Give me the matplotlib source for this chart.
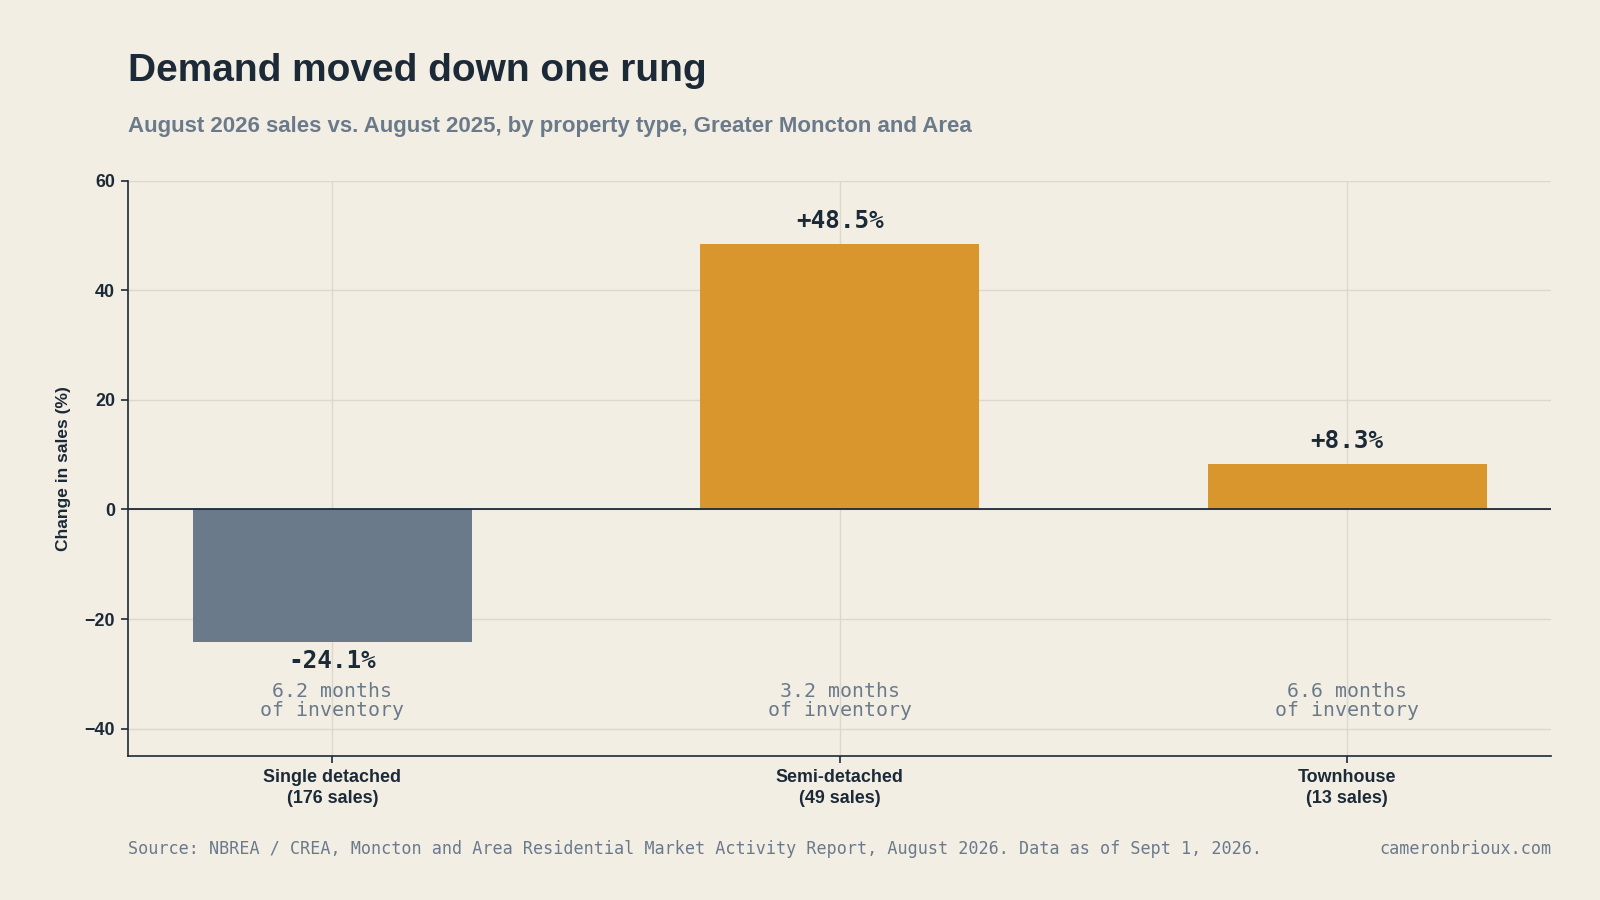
import matplotlib
matplotlib.use("Agg")
import matplotlib.pyplot as plt

# ---- data ----
categories = ["Single detached", "Semi-detached", "Townhouse"]
sales_counts = [176, 49, 13]
change_pct = [-24.1, 48.5, 8.3]
months_inventory = [6.2, 3.2, 6.6]
yticks = [-40, -20, 0, 20, 40, 60]

# ---- style ----
BG = "#f2eee4"
DARK = "#1c2a38"
SLATE = "#6b7a8b"
ORANGE = "#d8962c"
GRID = "#dcd8ce"
SANS = ["Liberation Sans", "DejaVu Sans"]
MONO = ["DejaVu Sans Mono"]

W, H = 1568, 882  # reference pixel space
def fx(x): return x / W
def fy(y): return 1 - y / H

fig = plt.figure(figsize=(16, 9), dpi=100, facecolor=BG)
ax = fig.add_axes([fx(125), fy(741), fx(1520) - fx(125), fy(177) - fy(741)])
ax.set_facecolor(BG)

xs = list(range(len(categories)))
colors = [SLATE if v < 0 else ORANGE for v in change_pct]
ax.bar(xs, change_pct, width=0.55, color=colors, zorder=2)

ax.set_xlim(-0.404, 2.402)
ax.set_ylim(-45, 60)
ax.set_yticks(yticks)
ax.set_yticklabels([("\u2212%d" % -t) if t < 0 else str(t) for t in yticks])
ax.set_xticks(xs)
ax.set_xticklabels([f"{c}\n({n} sales)" for c, n in zip(categories, sales_counts)],
                   fontfamily=SANS, fontweight="bold", fontsize=12.9, color=DARK,
                   linespacing=1.3)
for lab in ax.get_yticklabels():
    lab.set_fontfamily(SANS); lab.set_fontweight("bold"); lab.set_fontsize(12.9); lab.set_color(DARK)

ax.grid(True, color=GRID, linewidth=1, zorder=0)
ax.set_axisbelow(True)
ax.axhline(0, color=DARK, linewidth=1.3, zorder=3)
for s in ["top", "right"]:
    ax.spines[s].set_visible(False)
for s in ["left", "bottom"]:
    ax.spines[s].set_color(DARK)
    ax.spines[s].set_linewidth(1.2)
ax.tick_params(axis="both", colors=DARK, length=5, width=1.2, pad=4)

ax.set_ylabel("Change in sales (%)", fontfamily=SANS, fontweight="bold",
              fontsize=12.5, color=DARK, labelpad=10)

# value labels
for x, v in zip(xs, change_pct):
    txt = f"{v:+.1f}%"
    if v >= 0:
        ax.annotate(txt, (x, v), xytext=(0, 8), textcoords="offset points",
                    ha="center", va="bottom", fontfamily=MONO, fontweight="bold",
                    fontsize=17.5, color=DARK)
    else:
        ax.annotate(txt, (x, v), xytext=(0, -5), textcoords="offset points",
                    ha="center", va="top", fontfamily=MONO, fontweight="bold",
                    fontsize=17.5, color=DARK)

# inventory labels
for x, m in zip(xs, months_inventory):
    ax.text(x, -34.9, f"{m:.1f} months\nof inventory", ha="center", va="center",
            fontfamily=MONO, fontsize=14.3, color=SLATE, linespacing=1.0)

# titles
fig.text(fx(125), fy(70), "Demand moved down one rung", ha="left", va="center",
         fontfamily=SANS, fontweight="bold", fontsize=28, color=DARK)
fig.text(fx(125), fy(124), "August 2026 sales vs. August 2025, by property type, Greater Moncton and Area",
         ha="left", va="center", fontfamily=SANS, fontweight="bold", fontsize=16, color=SLATE)

# footer
fig.text(fx(125), fy(832),
         "Source: NBREA / CREA, Moncton and Area Residential Market Activity Report, August 2026. Data as of Sept 1, 2026.",
         ha="left", va="center", fontfamily=MONO, fontsize=12.1, color=SLATE)
fig.text(fx(1520), fy(832), "cameronbrioux.com", ha="right", va="center",
         fontfamily=MONO, fontsize=12.1, color=SLATE)

fig.savefig("out.png", dpi=100, facecolor=BG)
